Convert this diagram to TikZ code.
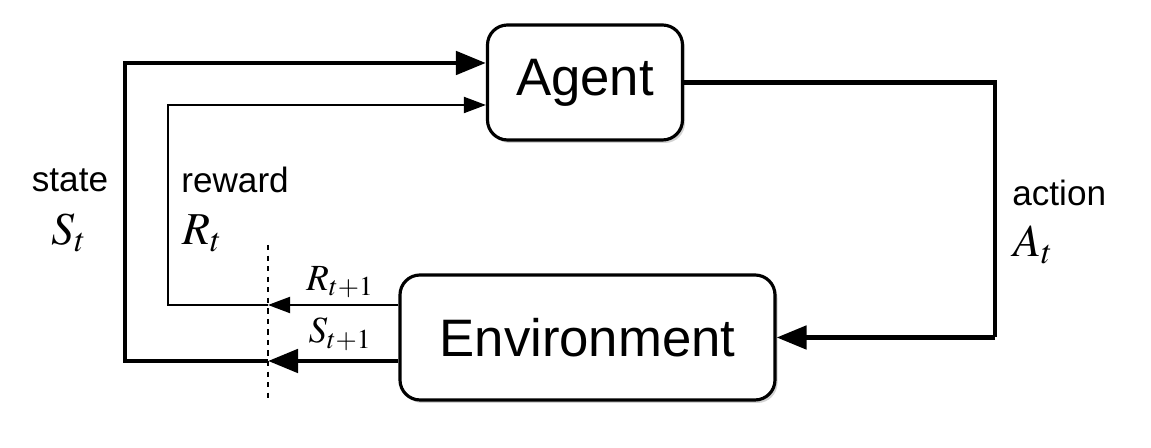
\documentclass[tikz,border=0pt]{standalone}
\usepackage{mathptmx}
\usepackage{fontspec}
\setmainfont{Liberation Sans}
\usepackage{tikz}
\usetikzlibrary{arrows.meta,shadows,positioning}
\tikzset{
  box/.style={draw, line width=1.8pt, rounded corners=0.4cm, fill=white,
    drop shadow={shadow xshift=0.05cm, shadow yshift=-0.06cm, opacity=0.35},
    font=\fontsize{30}{36}\selectfont},
  bigline/.style={line width=2.8pt},
  thinline/.style={line width=1.1pt},
  bigtip/.style={-{Triangle[length=0.6cm,width=0.46cm]}},
  thintip/.style={-{Triangle[length=0.44cm,width=0.32cm]}},
  lbl/.style={font=\fontsize{20}{24}\selectfont, inner sep=0pt},
  sym/.style={font=\fontsize{26}{30}\selectfont, inner sep=0pt},
  smallsym/.style={font=\fontsize{21}{25}\selectfont, inner sep=0pt}
}

\begin{document}
\begin{tikzpicture}
\useasboundingbox (0,0) rectangle (23.02,8.96);

% boxes
\node[box, minimum width=3.9cm, minimum height=2.3cm] (agent) at (11.70,7.31) {Agent};
\node[box, minimum width=7.5cm, minimum height=2.5cm] (env) at (11.75,2.21) {Environment};

% corners of the loops
\coordinate (cut) at (5.36,2.21);
\coordinate (rcut) at (cut |- 0,2.86);
\coordinate (scut) at (cut |- 0,1.74);
\coordinate (rlow) at (3.36,2.86);
\coordinate (rhigh) at (3.36,6.86);
\coordinate (slow) at (2.50,1.74);
\coordinate (shigh) at (2.50,7.70);
\coordinate (aright) at (19.90,0);

% action
\draw[bigline] (agent.east) -- (aright |- agent.east) -- (aright |- env.east);
\draw[bigline, bigtip] (aright |- env.east) -- (env.east);

% reward and state back to the agent
\draw[thinline, thintip] (env.west |- rcut) -- (rcut);
\draw[thinline, thintip] (rcut) -- (rlow) -- (rhigh) -- (agent.west |- rhigh);
\draw[bigline, bigtip] (env.west |- scut) -- (scut);
\draw[bigline, bigtip] (scut) -- (slow) -- (shigh) -- (agent.west |- shigh);

% time step boundary
\draw[line width=0.8pt, dashed] (5.36,4.06) -- (5.36,0.96);

% labels
\node[lbl] (state) at (1.40,5.36) {state};
\node[sym] (st) at (1.38,4.30) {$S_t$};
\node[lbl, anchor=west] (reward) at (3.62,5.36) {reward};
\node[sym, anchor=west] (rt) at (3.64,4.30) {$R_t$};
\node[lbl, anchor=west] (action) at (20.24,5.10) {action};
\node[sym, anchor=west] (at) at (20.26,4.06) {$A_t$};
\node[smallsym] (rnext) at (6.80,3.32) {$R_{t+1}$};
\node[smallsym] (snext) at (6.80,2.28) {$S_{t+1}$};
\end{tikzpicture}
\end{document}
